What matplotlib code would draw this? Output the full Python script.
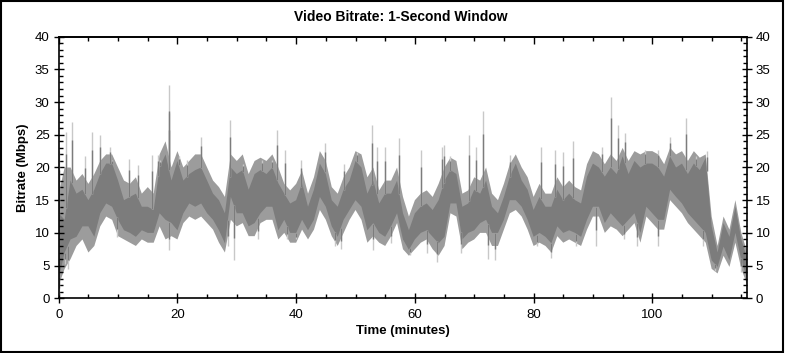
import numpy as np
import matplotlib
matplotlib.use('Agg')
import matplotlib.pyplot as plt
from matplotlib.ticker import MultipleLocator
from matplotlib.patches import Rectangle

plt.rcParams['font.family'] = ['Liberation Sans', 'DejaVu Sans']

# bitrate read per minute from the trace, Mbps
minutes = np.arange(0, 117)
# dense dark core
core_hi = [13, 12, 18, 16, 16.6, 15, 16.6, 19, 20.6, 20.6, 18, 15, 15.5, 16, 14, 14, 13.5, 20, 22,
           18, 21, 18, 19, 19.6, 20, 18, 16, 15, 13, 20, 19, 19.6, 16.6, 19, 19.6, 19, 20, 17.6, 16,
           14.5, 15, 17.6, 14, 16.6, 20.6, 19, 15, 14, 16.6, 18, 21, 20, 16, 18, 14.5, 16, 16, 18,
           13, 10.4, 13, 14, 14.5, 13.5, 15, 18, 19.6, 19, 14, 14.5, 16.6, 16, 18, 14, 13, 15.5, 18.6,
           20.6, 18, 16.6, 13.5, 15.5, 14, 14, 16.6, 15, 16, 15, 14.5, 18.6, 20.6, 20, 18.6, 20, 19, 21.7, 19,
           21, 20, 20.6, 20.6, 20, 18.6, 21.7, 20, 20.6, 19, 20.6, 19.6, 21.5, 11, 7, 11.5, 9.4, 14, 9, 6]
core_lo = [3, 7, 9, 9.4, 11, 11, 9.4, 13, 14.5, 14, 12, 10.4, 10, 9.4, 10.4, 10, 10, 13, 12,
           11.5, 10.4, 13, 14.5, 14, 14.5, 13, 12, 10.4, 8.4, 15.5, 13, 13, 11, 11.5, 13, 14, 14, 10.4, 12,
           10, 10, 12, 10.4, 12, 15.5, 14, 11, 9.4, 12, 13.5, 15, 14, 10.4, 11.5, 10, 9.4, 11, 13,
           9, 7.4, 9, 10, 10.4, 9.4, 8.4, 9.4, 14.5, 14.5, 9, 10, 10.4, 11.5, 12, 10, 10, 12, 15,
           15, 14, 12, 9.4, 10, 9.4, 8.4, 11, 10, 10.4, 10, 9.4, 12, 14, 14, 11.5, 13, 12, 11, 12,
           13, 10, 14, 13, 12, 12, 16.6, 15.5, 14.5, 13, 12, 11, 10, 5.8, 4.8, 7.9, 5.8, 10, 5.8, 3]
# outer fringe
ext_hi = [16, 20, 20, 18, 19, 17.5, 19, 21, 22, 22, 20, 18, 17.5, 18.5, 16, 17, 16, 22, 24,
          20, 22.5, 20, 21, 22, 22, 20, 18, 17, 15.5, 22, 21, 22, 19, 21, 21.5, 21, 22, 20, 17.5,
          16.5, 17.5, 19.5, 16, 18.5, 22.5, 21, 17, 16, 18.5, 20, 22.5, 22, 18.5, 20, 16.5, 18, 18, 20,
          15.5, 12.5, 15, 16, 16.5, 15.5, 17.5, 20, 21.5, 21, 16, 16.5, 18.5, 18, 20, 16, 15, 17.5, 20.5,
          22, 20, 18.5, 15.5, 17.5, 16, 16, 18.5, 17, 18, 17, 16.5, 20.5, 22.5, 22, 20.5, 22, 21, 23, 21,
          22.5, 22, 22.5, 22.5, 22, 20.5, 23, 22, 22.5, 21, 22.5, 21.5, 22, 12.5, 8, 12.5, 10.5, 15, 10, 7]
ext_lo = [2, 4.5, 6, 8, 9, 7, 8, 11, 12.5, 12, 9.5, 9, 8.5, 8, 9, 8.5, 8.5, 11, 9,
          9.5, 9, 11.5, 12.5, 12, 12.5, 11.5, 10.5, 8.5, 7, 12, 11, 11.5, 9.5, 9.5, 11.5, 12, 12, 9, 10,
          8.5, 8.5, 10.5, 9, 10.5, 13.5, 12, 9.5, 8, 10, 12, 13.5, 12, 8.5, 9.5, 8.5, 8, 9.5, 11.5,
          7.5, 6.5, 7.5, 8.5, 9, 7.5, 6.5, 8, 13, 12.5, 7.5, 8.5, 9, 10, 10, 8, 8, 10.5, 13,
          13.5, 12.5, 10.5, 8, 8.5, 8, 7, 9.5, 8.5, 9, 8.5, 8, 10.5, 12.5, 12.5, 10, 11, 10.5, 9.5, 10.5,
          11.5, 8.5, 12.5, 11.5, 10.5, 10.5, 15, 14, 13, 11.5, 10.5, 9.5, 8.5, 4.5, 3.8, 6.5, 4.8, 8.5, 4.5, 2]

# single-second peaks above the band
peak_t = [0.1, 1.3, 2.2, 4.4, 5.6, 7.0, 8.7, 8.9, 11.9, 13.3, 15.7, 16.8, 17.1, 18.5, 18.6,
          20.2, 21.6, 23.9, 28.8, 31.1, 34.2, 35.9, 36.8, 38.1, 40.8, 44.8, 48.0, 50.2, 52.7,
          53.6, 55.0, 57.4, 61.1, 64.6, 64.9, 65.9, 69.2, 70.3, 71.5, 76.0, 81.2, 83.6, 85.0,
          86.6, 91.5, 93.0, 94.3, 95.4, 98.8, 101.0, 103.0, 105.6, 107.3, 109.2]
peak_v = [22.5, 25.5, 27, 21.7, 25.5, 25, 23.2, 21.2, 21.3, 20.4, 21.9, 21.9, 21.2, 28.3, 32.6,
          21.7, 21.2, 24.7, 27.3, 20.6, 21.2, 21.2, 25.7, 22.7, 21.2, 23.7, 20.6, 22.4, 26.5,
          23.2, 23.2, 24.5, 22.7, 23.2, 23.5, 21.7, 25, 23.2, 28.6, 21.9, 23.2, 22.7, 22.4,
          24, 23.2, 30.8, 26.5, 25.2, 22.7, 22.7, 24.7, 27.5, 21.7, 22.5]

# single-second drops below the band
dip_t = [0.05, 1.0, 1.5, 9.8, 18.6, 28.5, 29.5, 33.5, 38.5, 40.0, 46.5, 47.5, 52.9, 56.0, 59.2,
         62.0, 63.7, 67.8, 72.3, 73.5, 80.5, 82.9, 87.2, 90.5, 95.2, 97.5, 101.0, 108.5, 110.5, 114.9]
dip_v = [0.5, 5.3, 4.5, 9.4, 7.4, 8, 5.8, 9, 9, 9, 8, 7.5, 7.4, 8.5, 6.6,
         7, 5.6, 7, 6, 5.8, 8, 6.1, 8, 8, 9, 8, 8, 8, 4.2, 4]

fig = plt.figure(figsize=(7.85, 3.53), dpi=100)
ax = fig.add_axes([0.0748, 0.155, 0.8764, 0.741])

dark = '#7c7c7c'
mid = '#9c9c9c'
light = '#c8c8c8'

# fringe, spikes, then the dark core on top
ax.fill_between(minutes, ext_lo, ext_hi, facecolor=mid, edgecolor='none')
base_hi = np.interp(peak_t, minutes, core_hi)
ax.vlines(peak_t, base_hi, peak_v, color=light, lw=1.0)
ax.vlines(peak_t, base_hi, base_hi + 0.7 * (np.array(peak_v) - base_hi), color=dark, lw=1.0)
base_lo = np.interp(dip_t, minutes, core_lo)
ax.vlines(dip_t, dip_v, base_lo, color=light, lw=1.0)
ax.vlines(dip_t, base_lo - 0.6 * (base_lo - np.array(dip_v)), base_lo, color=dark, lw=1.0)
ax.fill_between(minutes, core_lo, core_hi, facecolor=dark, edgecolor='none')

ax.set_xlim(0, 115.9)
ax.set_ylim(0, 40)

ax.xaxis.set_major_locator(MultipleLocator(20))
ax.xaxis.set_minor_locator(MultipleLocator(5))
ax.yaxis.set_major_locator(MultipleLocator(5))
ax.yaxis.set_minor_locator(MultipleLocator(1))

ax.tick_params(axis='y', which='major', direction='inout', length=7, width=1,
               left=True, right=True, labelleft=True, labelright=True, labelsize=9.5, pad=3)
ax.tick_params(axis='y', which='minor', direction='in', length=3, width=1, left=True, right=True)
ax.tick_params(axis='x', which='major', direction='inout', length=7, width=1,
               bottom=True, top=False, labelsize=9.5, pad=4)
ax.tick_params(axis='x', which='minor', direction='in', length=3, width=1, bottom=True, top=False)

# top axis only carries inward ticks
sec = ax.secondary_xaxis('top')
sec.xaxis.set_major_locator(MultipleLocator(20))
sec.xaxis.set_minor_locator(MultipleLocator(5))
sec.tick_params(which='major', direction='in', length=5, width=1, labeltop=False)
sec.tick_params(which='minor', direction='in', length=3, width=1)
sec.spines['top'].set_linewidth(1.2)

for s in ax.spines.values():
    s.set_linewidth(1.2)

ax.set_xlabel('Time (minutes)', fontsize=9.5, fontweight='bold', labelpad=3)
ax.set_ylabel('Bitrate (Mbps)', fontsize=9.5, fontweight='bold', labelpad=4)
fig.text(0.51, 0.952, 'Video Bitrate: 1-Second Window', fontsize=10, fontweight='bold',
         ha='center', va='center')

fig.patches.append(Rectangle((0.001, 0.003), 0.996, 0.994, transform=fig.transFigure,
                             fill=False, edgecolor='black', lw=1.5))

fig.savefig('out.png', dpi=100)
